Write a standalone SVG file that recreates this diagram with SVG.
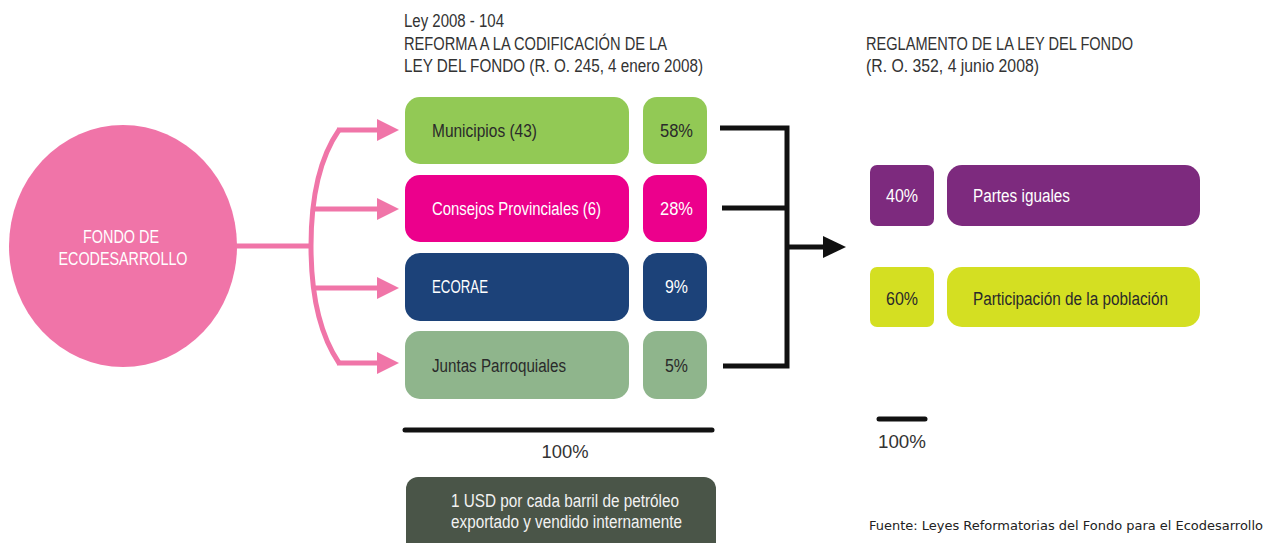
<svg xmlns="http://www.w3.org/2000/svg" width="1279" height="543" viewBox="0 0 1279 543">
<style>
.t{font-family:"Liberation Sans Narrow","Liberation Sans",Arial,sans-serif;font-size:18px;}
.hd{fill:#333;}
.w{fill:#fff;}
.d{fill:#2a2a2a;}
.pink{stroke:#F075A8;stroke-width:5;fill:none;}
.blk{stroke:#111;stroke-width:5;fill:none;}
.src{font-family:"DejaVu Sans",Verdana,sans-serif;font-size:12.5px;fill:#222;}
</style>
<rect width="1279" height="543" fill="#fff"/>

<g id="fondo">
<ellipse cx="123" cy="246" rx="114" ry="121" fill="#F074A8"/>
<text class="t w" x="121" y="243" text-anchor="middle" textLength="76" lengthAdjust="spacingAndGlyphs">FONDO DE</text>
<text class="t w" x="123" y="265" text-anchor="middle" textLength="129" lengthAdjust="spacingAndGlyphs">ECODESARROLLO</text>
</g>

<g id="header-left">
<text class="t hd" x="404" y="27" textLength="100" lengthAdjust="spacingAndGlyphs">Ley 2008 - 104</text>
<text class="t hd" x="404" y="50" textLength="263" lengthAdjust="spacingAndGlyphs">REFORMA A LA CODIFICACIÓN DE LA</text>
<text class="t hd" x="404" y="72" textLength="299" lengthAdjust="spacingAndGlyphs">LEY DEL FONDO (R. O. 245, 4 enero 2008)</text>
</g>

<g id="municipios">
<rect x="405" y="97" width="224" height="67" rx="15" fill="#92C955"/>
<text class="t d" x="432" y="137" textLength="105" lengthAdjust="spacingAndGlyphs">Municipios (43)</text>
<rect x="643" y="97" width="64" height="67" rx="14" fill="#92C955"/>
<text class="t d" x="693" y="137" text-anchor="end" textLength="33" lengthAdjust="spacingAndGlyphs">58%</text>
</g>

<g id="consejos">
<rect x="405" y="175" width="224" height="67" rx="15" fill="#EC008C"/>
<text class="t w" x="432" y="215" textLength="169" lengthAdjust="spacingAndGlyphs">Consejos Provinciales (6)</text>
<rect x="643" y="175" width="64" height="67" rx="14" fill="#EC008C"/>
<text class="t w" x="693" y="215" text-anchor="end" textLength="33" lengthAdjust="spacingAndGlyphs">28%</text>
</g>

<g id="ecorae">
<rect x="405" y="253" width="224" height="68" rx="15" fill="#1C4279"/>
<text class="t w" x="432" y="293" textLength="56" lengthAdjust="spacingAndGlyphs">ECORAE</text>
<rect x="643" y="253" width="64" height="68" rx="14" fill="#1C4279"/>
<text class="t w" x="688" y="293" text-anchor="end" textLength="23" lengthAdjust="spacingAndGlyphs">9%</text>
</g>

<g id="juntas">
<rect x="405" y="331" width="224" height="68" rx="15" fill="#8FB58C"/>
<text class="t d" x="432" y="372" textLength="134" lengthAdjust="spacingAndGlyphs">Juntas Parroquiales</text>
<rect x="643" y="331" width="64" height="68" rx="14" fill="#8FB58C"/>
<text class="t d" x="688" y="372" text-anchor="end" textLength="23" lengthAdjust="spacingAndGlyphs">5%</text>
</g>

<g id="total-left">
<line x1="405" y1="430" x2="712" y2="430" stroke="#111" stroke-width="5" stroke-linecap="round"/>
<text class="t hd" x="565" y="458" text-anchor="middle" textLength="47" lengthAdjust="spacingAndGlyphs">100%</text>
</g>

<g id="usd">
<rect x="406" y="477" width="310" height="80" rx="12" fill="#4A5548"/>
<text class="t" fill="#f2f2f2" x="451" y="507" textLength="228" lengthAdjust="spacingAndGlyphs">1 USD por cada barril de petróleo</text>
<text class="t" fill="#f2f2f2" x="451" y="528" textLength="231" lengthAdjust="spacingAndGlyphs">exportado y vendido internamente</text>
</g>

<g id="header-right">
<text class="t hd" x="866" y="50" textLength="267" lengthAdjust="spacingAndGlyphs">REGLAMENTO DE LA LEY DEL FONDO</text>
<text class="t hd" x="866" y="72" textLength="173" lengthAdjust="spacingAndGlyphs">(R. O. 352, 4 junio 2008)</text>
</g>

<g id="partes">
<rect x="870" y="165" width="64" height="61" rx="7" fill="#7D2A7E"/>
<text class="t w" x="902" y="202" text-anchor="middle" textLength="32" lengthAdjust="spacingAndGlyphs">40%</text>
<rect x="947" y="165" width="253" height="61" rx="15" fill="#7D2A7E"/>
<text class="t w" x="973" y="202" textLength="97" lengthAdjust="spacingAndGlyphs">Partes iguales</text>
</g>

<g id="poblacion">
<rect x="870" y="267" width="64" height="60" rx="7" fill="#D4DF22"/>
<text class="t d" x="902" y="305" text-anchor="middle" textLength="32" lengthAdjust="spacingAndGlyphs">60%</text>
<rect x="947" y="267" width="253" height="60" rx="15" fill="#D4DF22"/>
<text class="t d" x="973" y="305" textLength="195" lengthAdjust="spacingAndGlyphs">Participación de la población</text>
</g>

<g id="total-right">
<line x1="879" y1="419" x2="925" y2="419" stroke="#111" stroke-width="5" stroke-linecap="round"/>
<text class="t hd" x="902" y="448" text-anchor="middle" textLength="48" lengthAdjust="spacingAndGlyphs">100%</text>
</g>

<g id="fuente">
<text class="src" x="869" y="530" textLength="394" lengthAdjust="spacingAndGlyphs">Fuente: Leyes Reformatorias del Fondo para el Ecodesarrollo</text>
</g>

<g id="connectors">
<line class="pink" x1="236" y1="246" x2="312" y2="246"/>
<path class="pink" d="M339 130 C318 160 311 200 311 246 C311 292 318 332 339 363"/>
<path class="pink" d="M337 130 H380 M313 209 H380 M313 288 H380 M337 363 H380"/>
<g fill="#F075A8">
<polygon points="377,119 399,130 377,141"/>
<polygon points="377,198 399,209 377,220"/>
<polygon points="377,277 399,288 377,299"/>
<polygon points="377,352 399,363 377,374"/>
</g>
<path class="blk" d="M720 128 H787 M722 208 H787 M723 366 H787 M787 125.5 V368.5 M787 247 H826"/>
<polygon points="823,236 846,247 823,258" fill="#111"/>
</g>
</svg>
